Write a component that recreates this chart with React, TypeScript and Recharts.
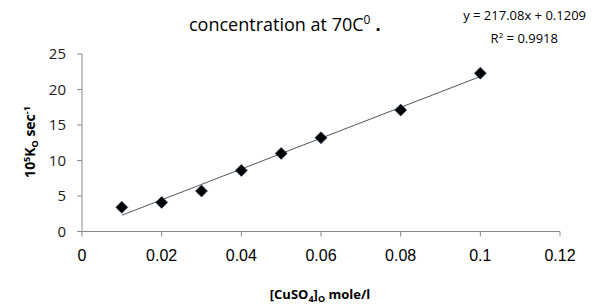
import { ScatterChart, Scatter, XAxis, YAxis, Label } from "recharts"

// [CuSO4]o (mole/l) vs 10^5 Ko (sec^-1)
const conc = [0.01, 0.02, 0.03, 0.04, 0.05, 0.06, 0.08, 0.1]
const rate = [3.4, 4.1, 5.7, 8.6, 11.0, 13.2, 17.1, 22.3]
const xTicks = [0, 0.02, 0.04, 0.06, 0.08, 0.1, 0.12]
const yTicks = [0, 5, 10, 15, 20, 25]
// linear trendline from Excel
const slope = 217.08
const intercept = 0.1209
const trendX = [0.01, 0.1]

const points = conc.map((x, i) => ({ x, y: rate[i] }))
const trend = trendX.map((x) => ({ x, y: slope * x + intercept }))

const Diamond = (props: any) => {
  const { cx, cy } = props
  if (cx == null || cy == null) return null
  const r = 6
  return <path d={`M${cx},${cy - r}L${cx + r},${cy}L${cx},${cy + r}L${cx - r},${cy}Z`} fill="#000" stroke="#1f3a60" strokeWidth={0.6} />
}

const NoDot = () => null

const YLabel = () => (
  <text x={35} y={142} transform="rotate(-90 35 142)" textAnchor="middle" fontFamily="'Open Sans', sans-serif" fontWeight="bold" fontSize={14} fill="#000">
    10<tspan dy={-5} fontSize={9}>5</tspan>
    <tspan dy={5}>K</tspan>
    <tspan dy={3} fontSize={9}>O</tspan>
    <tspan dy={-3}> sec</tspan>
    <tspan dy={-5} fontSize={9}>-1</tspan>
  </text>
)

const XLabel = () => (
  <text x={320} y={299} textAnchor="middle" fontFamily="'Open Sans', sans-serif" fontWeight="bold" fontSize={13} fill="#000">
    [CuSO<tspan dy={3} fontSize={9}>4</tspan>
    <tspan dy={-3}>]</tspan>
    <tspan dy={3} fontSize={9}>O</tspan>
    <tspan dy={-3}>  mole/l</tspan>
  </text>
)

export default function App() {
  return (
    <div style={{ position: "absolute", left: 0, top: 0, width: 601, height: 305, background: "#fff" }}>
      <div style={{ position: "absolute", left: 189, top: 11, whiteSpace: "nowrap", fontFamily: "'Open Sans', sans-serif", fontSize: 18 }}>
        concentration at 70C<sup style={{ fontSize: 12 }}>0</sup>
        <span style={{ fontWeight: "bold", marginLeft: 5 }}>.</span>
      </div>
      <div style={{ position: "absolute", left: 400, width: 186, top: 6, textAlign: "right", fontFamily: "'Open Sans', sans-serif", fontSize: 13, lineHeight: "19px" }}>
        <div>y = 217.08x + 0.1209</div>
        <div style={{ paddingRight: 28 }}>
          R<sup style={{ fontSize: 8 }}>2</sup> = 0.9918
        </div>
      </div>
      <ScatterChart width={601} height={305} margin={{ top: 54, right: 41, bottom: 43.5, left: 0 }}>
        <XAxis
          type="number"
          dataKey="x"
          domain={[0, 0.12]}
          ticks={xTicks}
          height={30}
          tick={{ fill: "#000", fontSize: 16, fontFamily: "'Liberation Sans', Arial, sans-serif" }}
          tickSize={5}
          tickMargin={13}
          stroke="#888"
          allowDataOverflow
        >
          <Label content={XLabel} />
        </XAxis>
        <YAxis
          type="number"
          dataKey="y"
          domain={[0, 25]}
          ticks={yTicks}
          width={82}
          tick={{ fill: "#222", fontSize: 15, fontFamily: "'Open Sans', sans-serif" }}
          tickSize={5}
          tickMargin={11}
          stroke="#888"
        >
          <Label content={YLabel} />
        </YAxis>
        <Scatter data={trend} line={{ stroke: "#555", strokeWidth: 1 }} shape={NoDot} isAnimationActive={false} />
        <Scatter data={points} shape={Diamond} isAnimationActive={false} />
      </ScatterChart>
    </div>
  )
}
